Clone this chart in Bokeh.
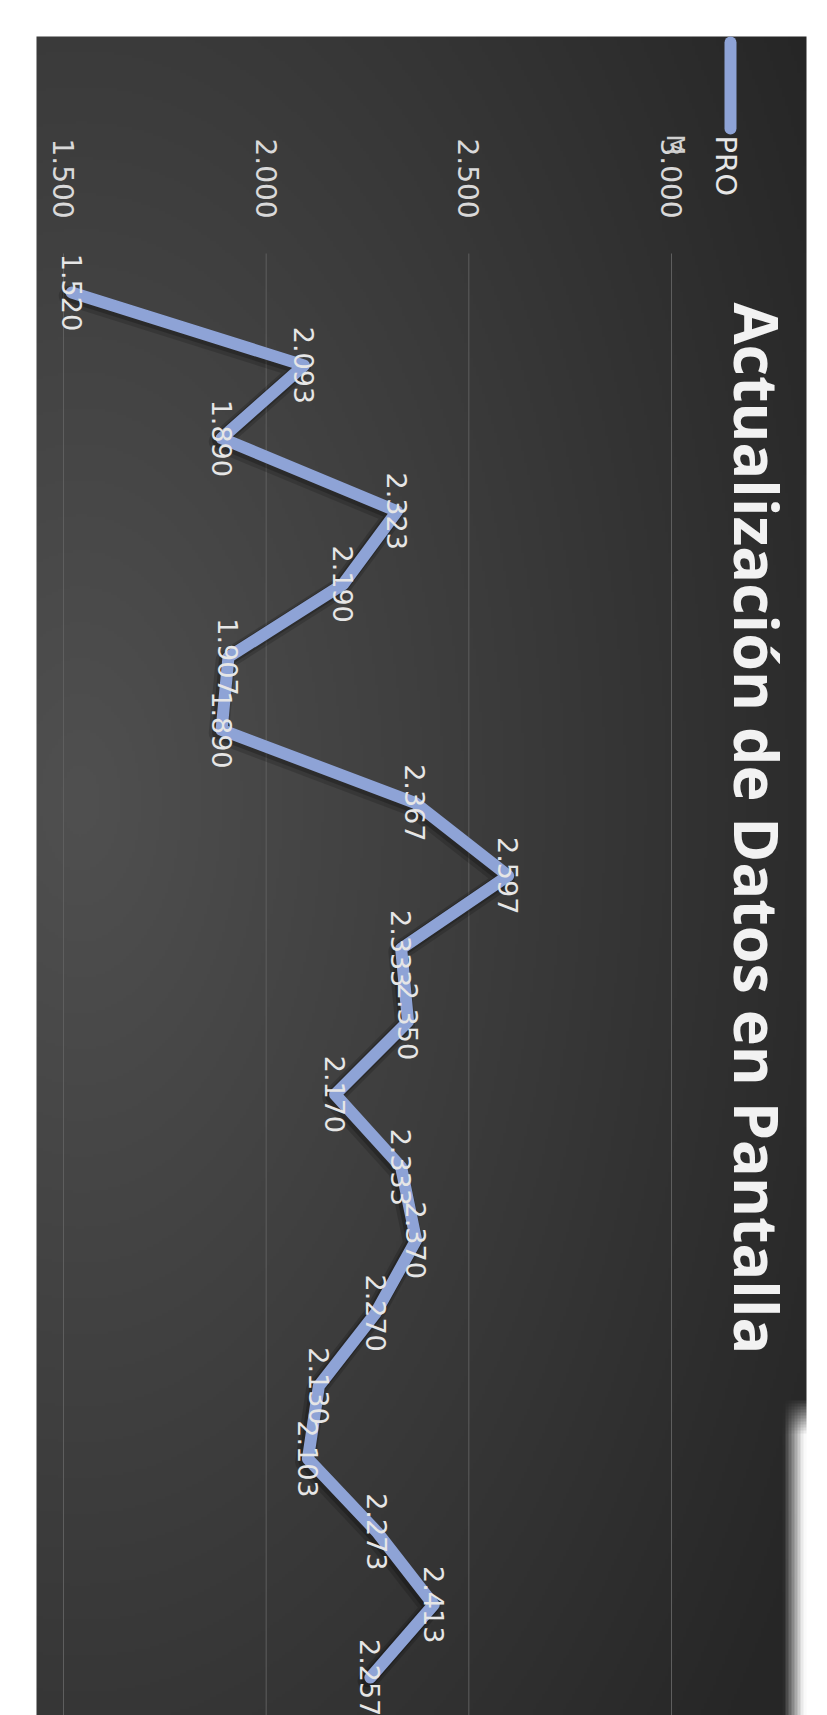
import numpy as np
from bokeh.plotting import figure
from bokeh.models import Range1d
from bokeh.core.properties import value
from bokeh.embed import file_html
from bokeh.resources import INLINE

# ---------------- data ----------------
titulo = "Actualización de Datos en Pantalla"
serie = "PRO"
puntos = list(range(1, 21))
valores = [1520, 2093, 1890, 2323, 2190, 1907, 1890, 2367, 2597, 2333,
           2350, 2170, 2333, 2370, 2270, 2130, 2103, 2273, 2413, 2257]
ticks = [1500, 2000, 2500, 3000]
tick_labels = ["1.500", "2.000", "2.500", "3.000"]


def fmt(v):
    return f"{v:,}".replace(",", ".")


etiquetas = [fmt(v) for v in valores]

# ---------------- layout (pixel calibration of the rotated chart) ----------------
W, H = 827, 1715
PX0, PX1 = 63, 671          # screen x of first and last tick
V0, V1 = ticks[0], ticks[-1]
PY1, DPY = 292, 72.9        # screen y of first category, spacing
SX = (PX1 - PX0) / (V1 - V0)


def xv(px):
    return V0 + (px - PX0) / SX


def yk(py):
    return puntos[0] + (py - PY1) / DPY


p = figure(width=W, height=H,
           x_range=Range1d(xv(0), xv(W)), y_range=Range1d(yk(H), yk(0)),
           output_backend="svg", toolbar_location=None,
           x_axis_location=None, y_axis_location=None,
           min_border=0, min_border_left=0, min_border_right=0,
           min_border_top=0, min_border_bottom=0,
           background_fill_color="white", border_fill_color="white",
           outline_line_color=None)
p.grid.visible = False

# ---------------- background gradient ----------------
L, T, R, B = 36, 36, 806, H
step = 3
gx = np.arange(L, R, step) + step / 2
gy = np.arange(T, B, step) + step / 2
X, Y = np.meshgrid(gx, gy)
d = np.sqrt(((X - 80) / 850.0) ** 2 + ((Y - 800) / 1500.0) ** 2)
c = 0x50 - (0x50 - 0x26) * np.clip(d, 0, 1)
fade = np.clip((X - 784) / 20.0, 0, 1) * np.clip((Y - 1400) / 35.0, 0, 1)
c = c * (1 - fade) + 250 * fade
ny, nx = c.shape
img = np.empty((ny, nx), dtype=np.uint32)
view = img.view(dtype=np.uint8).reshape((ny, nx, 4))
cc = c.astype(np.uint8)
view[..., 0] = cc
view[..., 1] = cc
view[..., 2] = cc
view[..., 3] = 255
p.image_rgba(image=[img], x=xv(L), y=yk(T), dw=xv(R) - xv(L), dh=yk(B) - yk(T))

# ---------------- gridlines ----------------
p.segment(x0=ticks, y0=[yk(253)] * len(ticks), x1=ticks, y1=[yk(H)] * len(ticks),
          line_color="#5e5e5e", line_width=1)

# ---------------- tick labels ----------------
p.text(x=ticks, y=[yk(178)] * len(ticks), text=tick_labels, angle=-np.pi / 2,
       text_align="center", text_baseline="middle",
       text_font=value("DejaVu Sans"), text_font_size="28px", text_color="#d9d9d9")
p.text(x=[xv(674)], y=[yk(134)], text=["M"], angle=-np.pi / 2,
       text_align="left", text_baseline="alphabetic",
       text_font=value("DejaVu Sans"), text_font_size="24px", text_color="#cfcfcf")

# ---------------- series (shadow + line) ----------------
p.line(x=[v - 7 for v in valores], y=[k + 0.045 for k in puntos], line_width=20,
       line_color="black", line_alpha=0.16, line_join="round", line_cap="round")
p.line(x=[v - 5 for v in valores], y=[k + 0.03 for k in puntos], line_width=15,
       line_color="black", line_alpha=0.22, line_join="round", line_cap="round")
p.line(x=valores, y=puntos, line_width=12, line_color="#8ea3d6",
       line_join="round", line_cap="round")

# ---------------- data labels ----------------
p.text(x=valores, y=puntos, text=etiquetas, angle=-np.pi / 2,
       text_align="center", text_baseline="middle",
       text_font=value("DejaVu Sans"), text_font_size="27px", text_color="#e6e6e6")

# ---------------- legend ----------------
p.line(x=[xv(730), xv(730)], y=[yk(42), yk(128)], line_width=12,
       line_color="#8ea3d6", line_cap="round")
p.text(x=[xv(725)], y=[yk(135)], text=[serie], angle=-np.pi / 2,
       text_align="left", text_baseline="alphabetic",
       text_font=value("DejaVu Sans"), text_font_size="29px", text_color="#e6e6e6")

# ---------------- title ----------------
p.text(x=[xv(757)], y=[yk(302)], text=[titulo], angle=-np.pi / 2,
       text_align="left", text_baseline="alphabetic",
       text_font=value("Open Sans"), text_font_style="bold",
       text_font_size="61px", text_color="#f2f2f2")

open("out.html", "w").write(file_html(p, INLINE))
